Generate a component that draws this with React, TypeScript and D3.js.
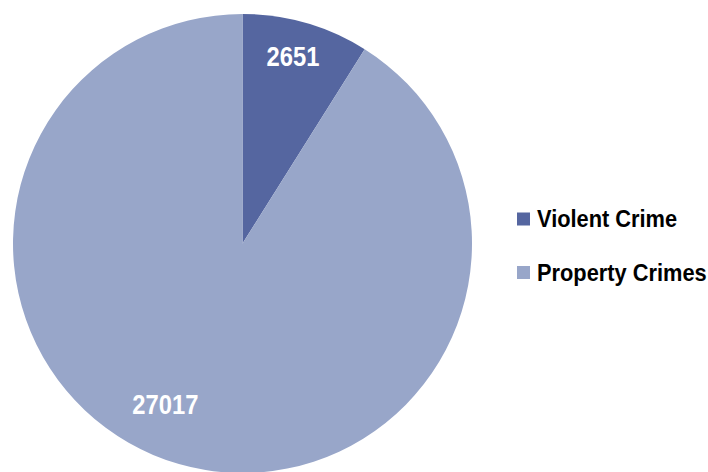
import React from "react";
import * as d3 from "d3";

const categories = ["Violent Crime", "Property Crimes"];
const values = [2651, 27017];
const colors = ["#5566a0", "#98a6c9"];

const W = 708;
const H = 472;
const cx = 242.5;
const cy = 243.5;
const R = 229.5;
// label placement (fraction of radius, angle shift in radians) per slice
const labelPlace = [
  { r: 0.84, da: -0.016 },
  { r: 0.78, da: 0.165 },
];

const font = "'Liberation Sans', Arial, sans-serif";

export default function App() {
  const pie = d3.pie<number>().sort(null).value((d) => d);
  const arcs = pie(values);
  const arc = d3.arc<d3.PieArcDatum<number>>().innerRadius(0).outerRadius(R);

  return (
    <svg
      width={W}
      height={H}
      style={{ position: "absolute", left: 0, top: 0, background: "#fff" }}
    >
      <g transform={`translate(${cx},${cy})`}>
        {arcs.map((a, i) => (
          <path key={i} d={arc(a) || ""} fill={colors[i]} />
        ))}
        {arcs.map((a, i) => {
          const mid = (a.startAngle + a.endAngle) / 2 + labelPlace[i].da;
          const r = R * labelPlace[i].r;
          const x = Math.sin(mid) * r;
          const y = -Math.cos(mid) * r;
          return (
            <g key={i} transform={`translate(${x},${y - 1}) scale(0.88,1)`}>
              <text
                x={0}
                y={0}
                textAnchor="middle"
                dominantBaseline="central"
                fill="#fff"
                fontFamily={font}
                fontWeight="bold"
                fontSize={27}
              >
                {values[i]}
              </text>
            </g>
          );
        })}
      </g>
      <g transform="translate(517,0)">
        {categories.map((c, i) => (
          <g key={c} transform={`translate(0,${219 + i * 53.5})`}>
            <rect x={0} y={-6.5} width={13} height={13} fill={colors[i]} />
            <g transform="translate(20,0) scale(0.89,1)">
              <text
                x={0}
                y={0}
                dominantBaseline="central"
                fill="#000"
                fontFamily={font}
                fontWeight="bold"
                fontSize={24.5}
              >
                {c}
              </text>
            </g>
          </g>
        ))}
      </g>
    </svg>
  );
}
